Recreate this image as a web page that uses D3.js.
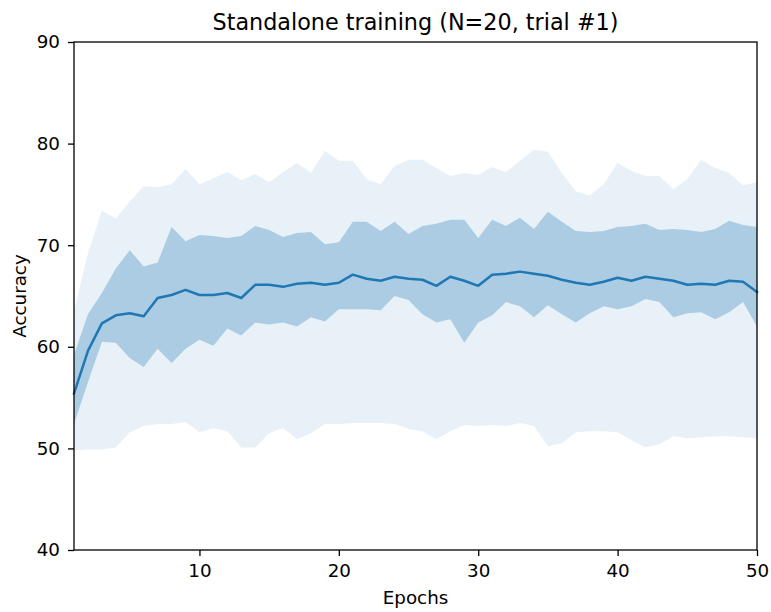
<!DOCTYPE html>
<html>
<head>
<meta charset="utf-8">
<script src="https://cdn.jsdelivr.net/npm/d3@7"></script>
<style>
  html, body { margin: 0; padding: 0; background: #fff; }
  svg text { font-family: "DejaVu Sans", sans-serif; fill: #000; }
</style>
</head>
<body>
<svg id="chart" width="771" height="612"></svg>
<script>
// Accuracy per epoch across 20 clients: mean, inner (±std) band, outer (min/max) band
const epochs = d3.range(1, 51);
const meanAcc = [55.4, 59.6, 62.3, 63.1, 63.3, 63.0, 64.8, 65.1, 65.6, 65.1,
                 65.1, 65.3, 64.8, 66.1, 66.1, 65.9, 66.2, 66.3, 66.1, 66.3,
                 67.1, 66.7, 66.5, 66.9, 66.7, 66.6, 66.0, 66.9, 66.5, 66.0,
                 67.1, 67.2, 67.4, 67.2, 67.0, 66.6, 66.3, 66.1, 66.4, 66.8,
                 66.5, 66.9, 66.7, 66.5, 66.1, 66.2, 66.1, 66.5, 66.4, 65.4];
const innerLow = [52.4, 56.5, 60.5, 60.4, 58.9, 58.0, 59.8, 58.4, 59.8, 60.7,
                  60.1, 61.8, 61.1, 62.4, 62.2, 62.4, 62.0, 62.9, 62.5, 63.7,
                  63.7, 63.7, 63.6, 65.0, 64.6, 63.2, 62.4, 62.7, 60.4, 62.4,
                  63.1, 64.4, 64.0, 62.9, 64.1, 63.2, 62.4, 63.3, 64.0, 63.7,
                  64.0, 64.7, 64.4, 62.9, 63.3, 63.4, 62.7, 63.4, 64.4, 62.0];
const innerHigh = [59.2, 63.2, 65.3, 67.7, 69.5, 67.9, 68.3, 71.8, 70.4, 71.0,
                   70.9, 70.7, 70.9, 71.9, 71.5, 70.8, 71.2, 71.3, 70.1, 70.3,
                   72.3, 72.3, 71.4, 72.3, 71.1, 71.9, 72.1, 72.5, 72.5, 70.7,
                   72.5, 71.9, 72.7, 71.6, 73.3, 72.3, 71.4, 71.3, 71.4, 71.8,
                   71.9, 72.1, 71.5, 71.6, 71.5, 71.3, 71.6, 72.4, 72.0, 71.8];
const outerLow = [49.8, 49.9, 49.9, 50.1, 51.6, 52.2, 52.4, 52.4, 52.6, 51.6,
                  52.0, 51.7, 50.1, 50.1, 51.5, 52.0, 50.9, 51.5, 52.4, 52.4,
                  52.5, 52.5, 52.5, 52.4, 51.9, 51.7, 50.9, 51.7, 52.3, 52.2,
                  52.3, 52.2, 52.5, 52.2, 50.2, 50.5, 51.6, 51.7, 51.7, 51.6,
                  50.8, 50.1, 50.4, 51.2, 51.0, 51.1, 51.2, 51.2, 51.1, 51.0];
const outerHigh = [63.5, 69.2, 73.4, 72.6, 74.3, 75.8, 75.7, 76.0, 77.5, 76.0,
                   76.6, 77.2, 76.4, 77.0, 76.2, 77.2, 78.1, 77.1, 79.3, 78.3,
                   78.3, 76.5, 76.0, 77.8, 78.4, 78.4, 77.6, 76.8, 77.1, 76.9,
                   77.7, 77.2, 78.3, 79.4, 79.2, 77.1, 75.3, 74.9, 76.0, 78.1,
                   77.3, 76.8, 76.8, 75.5, 76.5, 78.4, 77.6, 77.1, 75.9, 76.2];
const xTicks = [10, 20, 30, 40, 50];
const yTicks = [40, 50, 60, 70, 80, 90];

const lineColor = "#1f77b4";
const margin = { left: 74, right: 14, top: 42, bottom: 62 };
const W = 771, H = 612;
const svg = d3.select("#chart");

const x = d3.scaleLinear().domain([1, 50]).range([margin.left, W - margin.right]);
const y = d3.scaleLinear().domain([40, 90]).range([H - margin.bottom, margin.top]);

const rows = epochs.map((e, i) => ({
  e, m: meanAcc[i], il: innerLow[i], ih: innerHigh[i], ol: outerLow[i], oh: outerHigh[i]
}));

// outer band
svg.append("path")
  .datum(rows)
  .attr("fill", lineColor).attr("fill-opacity", 0.1)
  .attr("d", d3.area().x(d => x(d.e)).y0(d => y(d.ol)).y1(d => y(d.oh)));

// inner band
svg.append("path")
  .datum(rows)
  .attr("fill", lineColor).attr("fill-opacity", 0.3)
  .attr("d", d3.area().x(d => x(d.e)).y0(d => y(d.il)).y1(d => y(d.ih)));

// mean line
svg.append("path")
  .datum(rows)
  .attr("fill", "none").attr("stroke", lineColor).attr("stroke-width", 2.5)
  .attr("stroke-linejoin", "round").attr("stroke-linecap", "square")
  .attr("d", d3.line().x(d => x(d.e)).y(d => y(d.m)));

// axes
const xAxis = svg.append("g")
  .attr("transform", `translate(0,${H - margin.bottom})`)
  .call(d3.axisBottom(x).tickValues(xTicks).tickSize(6).tickPadding(8).tickFormat(d3.format("d")));
const yAxis = svg.append("g")
  .attr("transform", `translate(${margin.left},0)`)
  .call(d3.axisLeft(y).tickValues(yTicks).tickSize(6).tickPadding(8).tickFormat(d3.format("d")));
[xAxis, yAxis].forEach(g => {
  g.select(".domain").remove();
  g.selectAll(".tick line").attr("stroke", "#000").attr("stroke-width", 1.3);
  g.selectAll(".tick text").attr("font-size", 18.3).attr("font-family", "DejaVu Sans").attr("fill", "#000");
});

// frame
svg.append("rect")
  .attr("x", margin.left).attr("y", margin.top)
  .attr("width", W - margin.left - margin.right)
  .attr("height", H - margin.top - margin.bottom)
  .attr("fill", "none").attr("stroke", "#000").attr("stroke-width", 1.3);

// labels
svg.append("text")
  .attr("x", (margin.left + W - margin.right) / 2).attr("y", 29.5)
  .attr("text-anchor", "middle").attr("font-size", 22.3)
  .text("Standalone training (N=20, trial #1)");
svg.append("text")
  .attr("x", (margin.left + W - margin.right) / 2).attr("y", 604)
  .attr("text-anchor", "middle").attr("font-size", 18.3)
  .text("Epochs");
svg.append("text")
  .attr("transform", `translate(26,${(margin.top + H - margin.bottom) / 2}) rotate(-90)`)
  .attr("text-anchor", "middle").attr("font-size", 18.3)
  .text("Accuracy");
</script>
</body>
</html>
